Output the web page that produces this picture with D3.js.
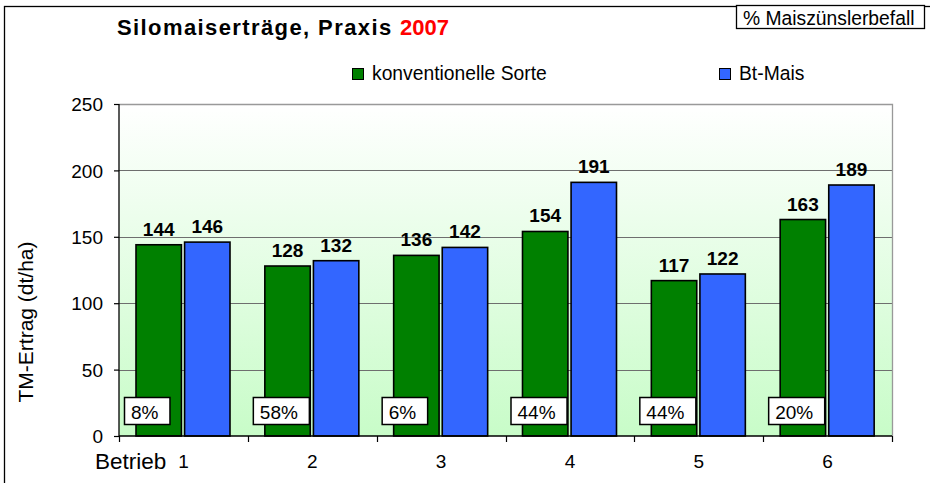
<!DOCTYPE html>
<html><head><meta charset="utf-8">
<script src="https://cdn.jsdelivr.net/npm/d3@7"></script>
<style>
html,body{margin:0;padding:0;background:#fff;}
svg{display:block;font-family:Arial,"Liberation Sans",sans-serif;}
</style></head>
<body><svg id="c" width="930" height="483"></svg>
<script>
const categories = ["1","2","3","4","5","6"];
const seriesNames = ["konventionelle Sorte","Bt-Mais"];
const konventionell = [144,128,136,154,117,163];
const btMais = [146,132,142,191,122,189];
const befall = ["8%","58%","6%","44%","44%","20%"];
const yTicks = [0,50,100,150,200,250];
const colors = ["#008000","#3366FF"];

const svg = d3.select("#c");
const L = 119, R = 892, T = 104, B = 436;
const FF = "Arial,'Liberation Sans',sans-serif";

// outer frame
svg.append("rect").attr("x",4.5).attr("y",6.5).attr("width",940).attr("height",500)
  .attr("fill","#fff").attr("stroke","#000").attr("stroke-width",1.3);

const defs = svg.append("defs");
const g = defs.append("linearGradient").attr("id","bg").attr("x1",0).attr("y1",0).attr("x2",0).attr("y2",1);
g.append("stop").attr("offset","0%").attr("stop-color","#ffffff");
g.append("stop").attr("offset","100%").attr("stop-color","#c8fcc8");

const x0 = d3.scaleBand().domain(categories).range([L,R]).padding(0);
const x1 = d3.scaleBand().domain([0,1]).range([17,111]).paddingInner(0.065).paddingOuter(0);
const y = d3.scaleLinear().domain([0,250]).range([B,T]);

svg.append("rect").attr("x",L).attr("y",T).attr("width",R-L).attr("height",B-T).attr("fill","url(#bg)");

// gridlines
svg.append("g").selectAll("line").data(yTicks.filter(d=>d>0 && d<250)).join("line")
  .attr("x1",L).attr("x2",R).attr("y1",d=>Math.round(y(d))+0.5).attr("y2",d=>Math.round(y(d))+0.5)
  .attr("stroke","#6e6e6e").attr("stroke-width",1);
// plot border top/right
svg.append("path").attr("d",`M${L},${T+0.5}H${R+0.5}V${B}`).attr("fill","none").attr("stroke","#999").attr("stroke-width",1.3);

// bars
const data = categories.map((c,i)=>({c,vals:[konventionell[i],btMais[i]],pct:befall[i]}));
const grp = svg.append("g").selectAll("g").data(data).join("g")
  .attr("transform",d=>`translate(${x0(d.c)},0)`);
grp.selectAll("rect").data(d=>d.vals.map((v,k)=>({v,k}))).join("rect")
  .attr("x",d=>x1(d.k)).attr("width",x1.bandwidth())
  .attr("y",d=>y(d.v)).attr("height",d=>B-y(d.v))
  .attr("fill",d=>colors[d.k]).attr("stroke","#000").attr("stroke-width",1.6);
grp.selectAll("text.val").data(d=>d.vals.map((v,k)=>({v,k}))).join("text").attr("class","val")
  .attr("x",d=>x1(d.k)+x1.bandwidth()/2).attr("y",d=>y(d.v)-9)
  .attr("text-anchor","middle").attr("font-size",19).attr("font-weight","bold").attr("fill","#000")
  .text(d=>d.v);

// percentage boxes
grp.each(function(d){
  const gg = d3.select(this);
  const bx = x1(0) - 12;
  const t = gg.append("text").attr("x",bx+7).attr("y",419)
    .attr("font-size",19).attr("fill","#000").text(d.pct);
  const w = t.node().getComputedTextLength()+18;
  gg.insert("rect",function(){return t.node();}).attr("x",bx+0.5).attr("y",397.5).attr("width",w).attr("height",27)
    .attr("fill","#fff").attr("stroke","#000").attr("stroke-width",1.5);
});

// y axis
const yAxis = svg.append("g").attr("transform",`translate(${L},0)`)
  .call(d3.axisLeft(y).tickValues(yTicks).tickSize(5).tickPadding(11));
yAxis.select(".domain").attr("stroke","#000").attr("stroke-width",1.3).attr("d",`M0,${T}V${B}`);
yAxis.selectAll(".tick line").attr("stroke","#000").attr("stroke-width",1.2);
yAxis.selectAll(".tick text").attr("font-size",19).attr("font-family",FF).attr("fill","#000").attr("dy","0.35em");

// x axis
const xAxis = svg.append("g").attr("transform",`translate(0,${B})`)
  .call(d3.axisBottom(x0).tickSize(0).tickPadding(19));
xAxis.select(".domain").attr("stroke","#000").attr("stroke-width",1.3).attr("d",`M${L},0H${R}`);
xAxis.selectAll(".tick text").attr("font-size",19).attr("font-family",FF).attr("fill","#000");
svg.append("g").selectAll("line").data(categories.concat(["end"])).join("line")
  .attr("x1",(d,i)=>Math.round(L+i*x0.step())+0.5).attr("x2",(d,i)=>Math.round(L+i*x0.step())+0.5)
  .attr("y1",B).attr("y2",B+6).attr("stroke","#000").attr("stroke-width",1.2);

svg.append("text").attr("x",95).attr("y",469).attr("font-size",22.5).attr("fill","#000").text("Betrieb");

// y title
svg.append("text").attr("transform","translate(33,322) rotate(-90)").attr("text-anchor","middle")
  .attr("font-size",21).attr("fill","#000").text("TM-Ertrag (dt/ha)");

// title
const title = svg.append("text").attr("x",117).attr("y",35).attr("font-size",22).attr("font-weight","bold").attr("fill","#000");
title.append("tspan").attr("letter-spacing","1.4px").text("Silomaiserträge, Praxis ");
title.append("tspan").attr("fill","#ff0000").text("2007");

// legend
const lg = svg.append("g");
const legX = [352, 719];
seriesNames.forEach((n,i)=>{
  lg.append("rect").attr("x",legX[i]+0.5).attr("y",68.5).attr("width",11).attr("height",11)
    .attr("fill",colors[i]).attr("stroke","#000").attr("stroke-width",1);
  lg.append("text").attr("x",legX[i]+20).attr("y",80).attr("font-size",19.3).attr("fill","#000").text(n);
});

// % box
svg.append("rect").attr("x",736.5).attr("y",5.5).attr("width",188).attr("height",23)
  .attr("fill","#fff").attr("stroke","#000").attr("stroke-width",1.3);
svg.append("text").attr("x",743).attr("y",25).attr("font-size",19.3).attr("fill","#000").text("% Maiszünslerbefall");
</script></body></html>
